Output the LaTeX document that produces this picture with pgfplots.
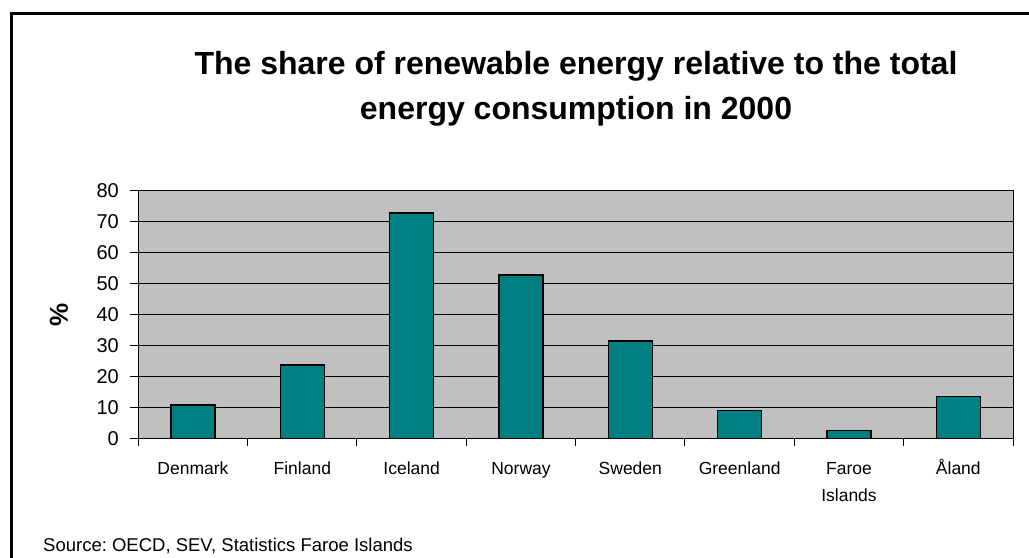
\documentclass[border=0pt]{standalone}
\usepackage{pgfplots}
\pgfplotsset{compat=1.18}
\usepackage{fontspec}
\setmainfont{Liberation Sans}
\frenchspacing
\definecolor{barteal}{HTML}{008080}
\definecolor{plotgray}{HTML}{C0C0C0}

\begin{document}
\begin{tikzpicture}
\useasboundingbox (0bp,0bp) rectangle (1029bp,558bp);
% outer chart frame (runs off the right and bottom edges)
\begin{scope}
\clip (0bp,0bp) rectangle (1029bp,558bp);
\draw[line width=3.3bp] (11.7bp,-20bp) -- (11.7bp,544.7bp) -- (1060bp,544.7bp);
\end{scope}

% title
\node[anchor=base, inner sep=0pt, font=\fontsize{32bp}{38bp}\selectfont\bfseries]
  at (576bp,483bp) {The share of renewable energy relative to the total};
\node[anchor=base, inner sep=0pt, font=\fontsize{32bp}{38bp}\selectfont\bfseries]
  at (576bp,438bp) {energy consumption in 2000};

% source note
\node[anchor=base west, inner sep=0pt, font=\fontsize{18.5bp}{22bp}\selectfont]
  at (43bp,6.3bp) {Source: OECD, SEV, Statistics Faroe Islands};

\begin{axis}[
  at={(138.3bp,119.7bp)}, anchor=south west,
  width=874.7bp, height=247.6bp, scale only axis,
  xmin=0.5, xmax=8.5, ymin=0, ymax=80,
  ytick={0,10,...,80},
  xtick={0.5,1.5,...,8.5},
  xticklabels={,,,,,,,,},
  extra x ticks={1,2,3,4,5,6,7,8},
  extra x tick labels={\strut Denmark,\strut Finland,\strut Iceland,\strut Norway,
    \strut Sweden,\strut Greenland,{\strut Faroe\\Islands},\strut Åland},
  extra x tick style={major tick length=0pt, grid=none,
    xticklabel style={align=center, anchor=north, yshift=-14bp,
      font=\fontsize{17.5bp}{27bp}\selectfont}},
  tick pos=left,
  tick align=outside,
  major tick length=8bp,
  tick style={black, line width=1bp},
  ymajorgrids,
  major grid style={black, line width=1bp},
  axis line style={black, line width=1bp},
  axis background/.style={fill=plotgray},
  /pgf/number format/assume math mode=true,
  yticklabel style={font=\fontsize{20bp}{24bp}\selectfont, anchor=east, xshift=-8bp},
  ylabel={\%},
  ylabel style={at={(axis description cs:-0.0907,0.5)}, anchor=center,
    font=\fontsize{26bp}{30bp}\selectfont\bfseries},
  ybar, bar width=44bp,
]
\addplot[fill=barteal, draw=black, line width=1.3bp]
  coordinates {(1,10.8) (2,23.7) (3,72.8) (4,52.8) (5,31.4) (6,8.9) (7,2.5) (8,13.4)};
\end{axis}
\end{tikzpicture}
\end{document}
